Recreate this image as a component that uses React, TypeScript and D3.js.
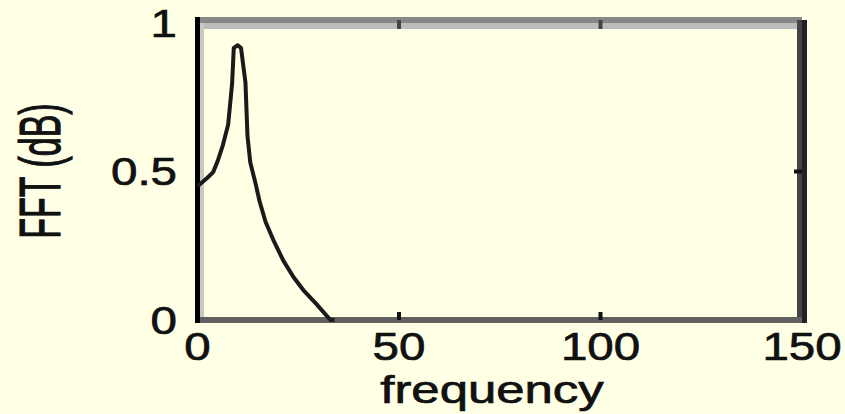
import React from "react";
import * as d3 from "d3";

const freq = [0, 2.4, 3.9, 5.1, 6.3, 7.6, 8.6, 9.0, 10.0, 10.8, 11.9, 12.4, 13.1, 14.4, 15.4, 16.9, 18.8, 21.3, 23.8, 26.3, 29.3, 31.7, 33.0, 34.0];
const fft = [0.45, 0.478, 0.498, 0.539, 0.589, 0.657, 0.798, 0.916, 0.925, 0.916, 0.8, 0.62, 0.53, 0.46, 0.4, 0.33, 0.27, 0.2, 0.145, 0.1, 0.057, 0.02, 0.0, 0.0];
const xTicks = [0, 50, 100, 150];
const yTicks = [0, 0.5, 1];
const yTickLabels = ["0", "0.5", "1"];
const xLabel = "frequency";
const yLabel = "FFT (dB)";

export default function App() {
  const W = 845, H = 414;
  const left = 197.5, right = 802, top = 23, bottom = 320;
  const x = d3.scaleLinear().domain([0, 150]).range([left, right]);
  const y = d3.scaleLinear().domain([0, 1]).range([bottom, top]);
  const line = d3.line<number>().x((_, i) => x(freq[i])).y((d) => y(d));
  const font = "'Liberation Sans', Arial, sans-serif";
  const textProps = { fontFamily: font, fill: "#111", stroke: "#111", strokeWidth: 0.7 };
  return (
    <svg width={W} height={H} style={{ position: "fixed", left: 0, top: 0, display: "block", background: "#ffffe6" }}>
      <rect x={0} y={0} width={W} height={H} fill="#ffffe6" />
      {/* top axis */}
      <line x1={left} x2={right} y1={top - 3} y2={top - 3} stroke="#888" strokeWidth={6} />
      <line x1={left} x2={right} y1={top + 3} y2={top + 3} stroke="#bbb" strokeWidth={6} />
      {/* right axis */}
      <line x1={right - 2.5} x2={right - 2.5} y1={top - 3} y2={bottom + 3} stroke="#444" strokeWidth={5} />
      <line x1={right + 2.5} x2={right + 2.5} y1={top - 3} y2={bottom + 3} stroke="#222" strokeWidth={5} />
      {/* left light band */}
      <line x1={left + 4.5} x2={left + 4.5} y1={top} y2={bottom} stroke="#c8c8c0" strokeWidth={4} />
      {/* bottom axis */}
      <line x1={left} x2={right} y1={bottom} y2={bottom} stroke="#606060" strokeWidth={6} />
      {/* ticks */}
      {xTicks.slice(1, -1).map((t) => (
        <g key={"xt" + t}>
          <line x1={x(t)} x2={x(t)} y1={bottom} y2={bottom - 8} stroke="#111" strokeWidth={4} />
          <line x1={x(t)} x2={x(t)} y1={top - 3} y2={top + 6} stroke="#444" strokeWidth={4} />
        </g>
      ))}
      {yTicks.slice(1, -1).map((t) => (
        <g key={"yt" + t}>
          <line x1={right} x2={right - 8} y1={y(t)} y2={y(t)} stroke="#111" strokeWidth={4} />
        </g>
      ))}
      {/* left axis */}
      <line x1={left} x2={left} y1={top - 6} y2={bottom + 3} stroke="#000" strokeWidth={5} />
      {/* curve */}
      <path d={line(fft) || ""} fill="none" stroke="#1a1a1a" strokeWidth={4} strokeLinejoin="round" />
      {/* tick labels */}
      {xTicks.map((t) => (
        <text key={"xl" + t} transform={`translate(${x(t)},360) scale(1.25,1)`} textAnchor="middle" fontSize={38} {...textProps}>
          {String(t)}
        </text>
      ))}
      {yTicks.map((t, i) => (
        <text key={"yl" + t} transform={`translate(177,${y(t) + 13.6}) scale(1.25,1)`} textAnchor="end" fontSize={38} {...textProps}>
          {yTickLabels[i]}
        </text>
      ))}
      <text transform={`translate(492,403) scale(1.34,1)`} textAnchor="middle" fontSize={38} {...textProps}>
        {xLabel}
      </text>
      <text transform={`translate(60,171) scale(1.7,1) rotate(-90)`} textAnchor="middle" fontSize={34} {...textProps}>
        {yLabel}
      </text>
    </svg>
  );
}
